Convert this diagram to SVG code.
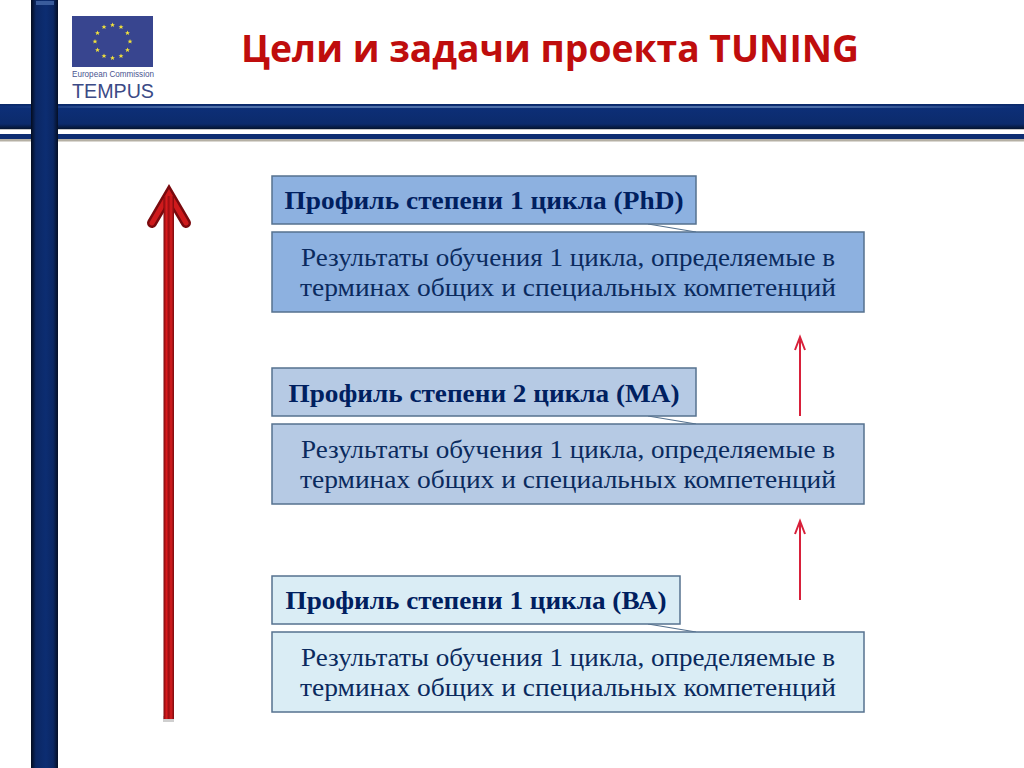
<svg xmlns="http://www.w3.org/2000/svg" xmlns:xlink="http://www.w3.org/1999/xlink" width="1024" height="768" viewBox="0 0 1024 768">
<style>
.hd{font:bold 26px "Liberation Serif",serif;fill:#002060;text-anchor:middle}
.bd{font:26px "Liberation Serif",serif;fill:#0a2a5e;text-anchor:middle}
.box{stroke:#56728f;stroke-width:1.500}
.tail{fill:none;stroke:#56728f;stroke-width:1.200}
.thin{fill:none;stroke:#d8203a;stroke-width:2}
</style>
<defs>
<linearGradient id="hbar" x1="0" y1="0" x2="0" y2="1"><stop offset="0" stop-color="#0a2866"/><stop offset=".1" stop-color="#0d2f78"/><stop offset=".8" stop-color="#0c2b6c"/><stop offset="1" stop-color="#05142f"/></linearGradient>
<linearGradient id="vbar" x1="0" y1="0" x2="1" y2="0"><stop offset="0" stop-color="#040c1e"/><stop offset=".18" stop-color="#0b2763"/><stop offset=".55" stop-color="#0c2d72"/><stop offset=".82" stop-color="#0b2763"/><stop offset="1" stop-color="#050f25"/></linearGradient>
<linearGradient id="shine" x1="0" y1="0" x2="1" y2="0"><stop offset="0" stop-color="#4f70aa" stop-opacity="0"/><stop offset=".2" stop-color="#4f70aa"/><stop offset=".8" stop-color="#4f70aa"/><stop offset="1" stop-color="#4f70aa" stop-opacity="0"/></linearGradient>
<linearGradient id="shaft" x1="0" y1="0" x2="1" y2="0"><stop offset="0" stop-color="#7a0a0e"/><stop offset=".28" stop-color="#d81c1e"/><stop offset=".5" stop-color="#9c0d12"/><stop offset=".72" stop-color="#d81c1e"/><stop offset="1" stop-color="#7a0a0e"/></linearGradient>
<polygon id="star" points="0,-2.600 .7,-.8 2.500,-.8 1.100,.3 1.600,2.100 0,1 -1.600,2.100 -1.100,.3 -2.500,-.8 -.7,-.8" fill="#f2e23a"/>
</defs>
<rect width="1024" height="768" fill="#fff"/>
<g id="frame">
<rect x="0" y="128" width="1024" height="2" fill="#c4c4c4"/>
<rect x="0" y="104" width="1024" height="25" fill="url(#hbar)"/>
<rect x="3" y="106" width="1018" height="2" fill="url(#shine)"/>
<rect x="0" y="134" width="1024" height="5" fill="#0d2d72"/>
<rect x="0" y="139" width="1024" height="2.500" fill="#b5b0a4"/>
<rect x="31" y="0" width="27" height="768" fill="url(#vbar)"/>
<rect x="36" y="1" width="18" height="4" fill="#3a5c9c"/>
</g>
<g id="logo">
<rect x="72" y="16" width="81" height="51" fill="#38458f"/>
<use xlink:href="#star" x="112.500" y="25"/><use xlink:href="#star" x="121" y="27"/><use xlink:href="#star" x="127.500" y="33"/><use xlink:href="#star" x="130" y="41.500"/><use xlink:href="#star" x="127.500" y="50"/><use xlink:href="#star" x="121" y="56"/><use xlink:href="#star" x="112.500" y="58"/><use xlink:href="#star" x="104" y="56"/><use xlink:href="#star" x="97.500" y="50"/><use xlink:href="#star" x="95" y="41.500"/><use xlink:href="#star" x="97.500" y="33"/><use xlink:href="#star" x="104" y="27"/>
<text x="72" y="77" font-family="'Liberation Sans',sans-serif" font-size="9.500" fill="#4a5590" textLength="82" lengthAdjust="spacingAndGlyphs">European Commission</text>
<text x="72" y="97.500" font-family="'Liberation Sans',sans-serif" font-size="20" fill="#3b4a86" textLength="82" lengthAdjust="spacingAndGlyphs">TEMPUS</text>
</g>
<text id="title" x="550" y="62" font-family="'Open Sans',sans-serif" font-weight="bold" font-size="37" fill="#bf0d0d" text-anchor="middle" textLength="618" lengthAdjust="spacingAndGlyphs">Цели и задачи проекта TUNING</text>
<g id="node-phd">
<path class="tail" d="M648,224L696,232"/>
<rect class="box" x="272" y="176" width="424" height="48" fill="#8db1e0"/>
<text class="hd" x="484" y="209" textLength="399" lengthAdjust="spacingAndGlyphs">Профиль степени 1 цикла (PhD)</text>
</g>
<g id="node-phd-results">
<rect class="box" x="272" y="232" width="592" height="80" fill="#8db1e0"/>
<text class="bd" x="568" y="266" textLength="534" lengthAdjust="spacingAndGlyphs">Результаты обучения 1 цикла, определяемые в</text>
<text class="bd" x="568" y="296" textLength="536" lengthAdjust="spacingAndGlyphs">терминах общих и специальных компетенций</text>
</g>
<g id="node-ma">
<path class="tail" d="M648,416L696,424"/>
<rect class="box" x="272" y="368" width="424" height="48" fill="#b6cae4"/>
<text class="hd" x="484" y="402" textLength="391" lengthAdjust="spacingAndGlyphs">Профиль степени 2 цикла (МА)</text>
</g>
<g id="node-ma-results">
<rect class="box" x="272" y="424" width="592" height="80" fill="#b6cae4"/>
<text class="bd" x="568" y="458" textLength="534" lengthAdjust="spacingAndGlyphs">Результаты обучения 1 цикла, определяемые в</text>
<text class="bd" x="568" y="488" textLength="536" lengthAdjust="spacingAndGlyphs">терминах общих и специальных компетенций</text>
</g>
<g id="node-ba">
<path class="tail" d="M648,624L696,632"/>
<rect class="box" x="272" y="576" width="408" height="48" fill="#daedf5"/>
<text class="hd" x="476" y="609" textLength="381" lengthAdjust="spacingAndGlyphs">Профиль степени 1 цикла (ВА)</text>
</g>
<g id="node-ba-results">
<rect class="box" x="272" y="632" width="592" height="80" fill="#daedf5"/>
<text class="bd" x="568" y="666" textLength="534" lengthAdjust="spacingAndGlyphs">Результаты обучения 1 цикла, определяемые в</text>
<text class="bd" x="568" y="696" textLength="536" lengthAdjust="spacingAndGlyphs">терминах общих и специальных компетенций</text>
</g>
<g id="connectors">
<g id="big-arrow">
<rect x="163" y="716" width="11" height="6" fill="#cfcfcf"/>
<path d="M152,223L169,194L186,223" fill="none" stroke="#7a0a0e" stroke-width="10" stroke-linecap="round" stroke-linejoin="miter"/>
<path d="M152,223L169,194L186,223" fill="none" stroke="#cf1a1c" stroke-width="5" stroke-linecap="round" stroke-linejoin="miter"/>
<rect x="163.500" y="196" width="10.500" height="523" fill="url(#shaft)"/>
</g>
<path class="thin" d="M800,416V338M795,350L800,337L805,350"/>
<path class="thin" d="M800,600V522M795,534L800,521L805,534"/>
</g>
</svg>
